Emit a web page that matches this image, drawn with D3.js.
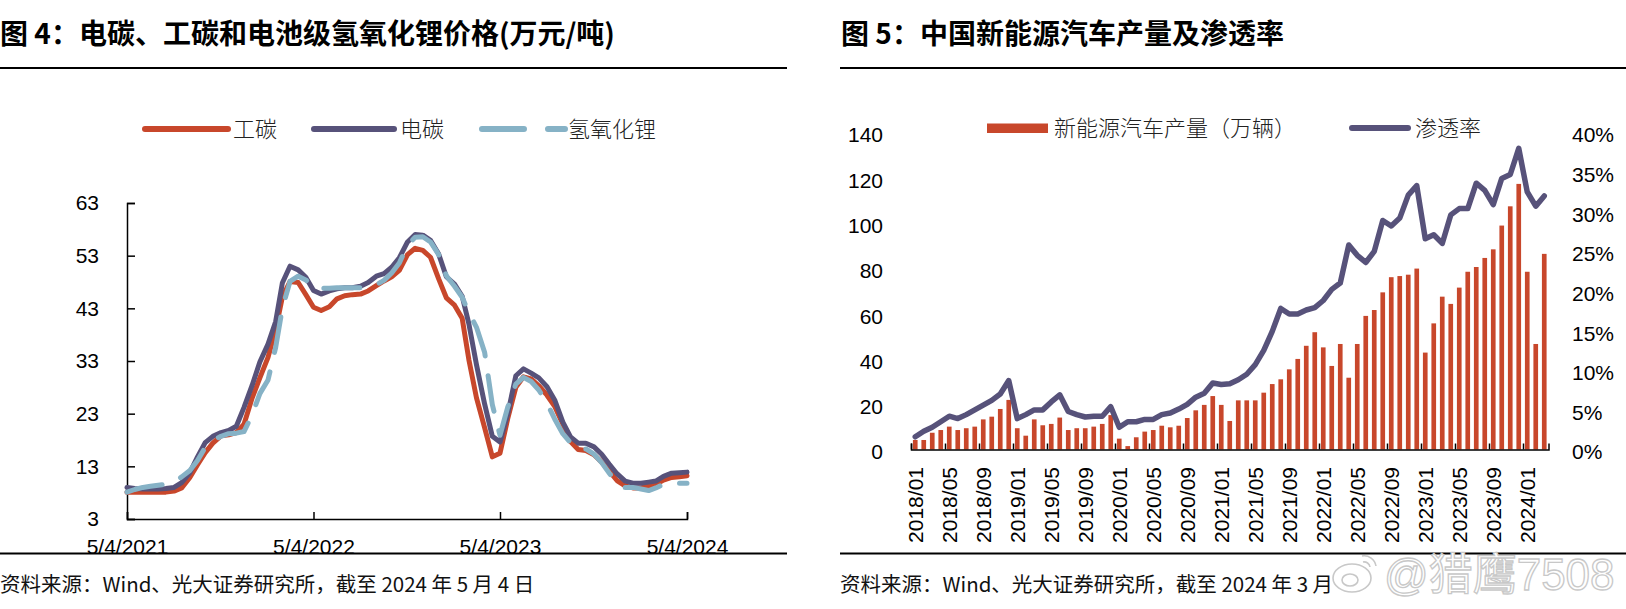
<!DOCTYPE html>
<html><head><meta charset="utf-8">
<script src="https://cdn.jsdelivr.net/npm/d3@7"></script>
<style>
html,body{margin:0;padding:0;background:#fff;}
svg{display:block;}
</style></head>
<body>
<svg id="c" width="1626" height="609"></svg>
<script>
// ---------- Left chart data (万元/吨) ----------
const lDates = ["2021-05-04","2021-05-19","2021-06-04","2021-06-19","2021-07-04","2021-07-19","2021-08-04","2021-08-19","2021-09-04","2021-09-19","2021-10-04","2021-10-19","2021-11-04","2021-11-19","2021-12-04","2021-12-19",
"2022-01-04","2022-01-19","2022-02-04","2022-02-19","2022-03-04","2022-03-19","2022-04-04","2022-04-19","2022-05-04","2022-05-19","2022-06-04","2022-06-19","2022-07-04","2022-07-19","2022-08-04","2022-08-19","2022-09-04","2022-09-19","2022-10-04","2022-10-19","2022-11-04","2022-11-19","2022-12-04","2022-12-19",
"2023-01-04","2023-01-19","2023-02-04","2023-02-19","2023-03-04","2023-03-19","2023-04-04","2023-04-19","2023-05-04","2023-05-19","2023-06-04","2023-06-19","2023-07-04","2023-07-19","2023-08-04","2023-08-19","2023-09-04","2023-09-19","2023-10-04","2023-10-19","2023-11-04","2023-11-19","2023-12-04","2023-12-19",
"2024-01-04","2024-01-19","2024-02-04","2024-02-19","2024-03-04","2024-03-19","2024-04-04","2024-04-19","2024-05-04"];
const gongtan = [8.1,8.1,8.1,8.1,8.1,8.1,8.3,8.9,10.9,13.3,15.6,17.4,18.8,19.0,19.4,21.0,
26.0,29.8,33.7,39.0,45.1,48.1,47.9,45.6,43.2,42.6,43.3,44.8,45.4,45.6,45.7,46.3,47.3,48.2,49.0,50.2,53.2,54.4,54.0,52.7,
48.6,45.0,43.6,41.1,33.3,26.0,20.3,14.8,15.5,22.0,28.0,30.0,29.6,28.3,26.5,24.4,21.0,17.7,16.2,16.0,15.2,13.8,12.1,10.3,
9.3,8.9,8.9,9.3,9.6,10.4,10.9,11.0,11.2];
const diantan = [9.0,8.8,8.7,8.7,8.7,8.8,9.0,9.9,11.8,14.8,17.5,18.7,19.4,19.8,20.6,24.2,
28.4,32.8,36.2,40.5,47.8,51.0,50.3,48.9,46.4,45.7,46.3,46.7,46.9,46.9,47.2,47.9,49.1,49.6,50.8,52.6,55.6,57.0,56.9,55.9,
53.3,49.0,47.6,45.3,40.1,32.3,24.8,18.7,17.6,22.9,30.2,31.5,30.7,29.8,28.1,25.6,21.4,18.6,17.4,17.4,16.7,15.3,13.4,11.6,
10.2,9.8,9.8,10.0,10.2,11.1,11.7,11.8,11.9];
const qingyanghua = [8.1,8.6,9.0,9.2,9.4,9.6,10.1,11.0,12.2,14.1,16.6,17.9,18.7,19.2,19.3,19.6,
22.8,26.8,29.4,35.6,43.0,48.1,49.1,48.4,47.0,46.8,46.8,46.9,46.9,46.9,46.9,47.2,47.5,48.3,49.7,51.6,55.0,56.5,56.6,55.6,
53.2,49.2,47.2,45.1,42.2,39.4,34.6,24.7,18.9,24.2,28.6,29.9,29.1,27.5,25.0,22.0,19.2,17.5,16.3,16.3,15.3,13.7,11.7,9.8,
9.0,9.0,8.7,8.4,8.9,9.6,9.8,9.8,9.8];
const lYTicks = [3,13,23,33,43,53,63];
const lXTicks = ["2021-05-04","2022-05-04","2023-05-04","2024-05-04"];
const lXTickLabels = ["5/4/2021","5/4/2022","5/4/2023","5/4/2024"];
const lSeriesNames = ["工碳","电碳","氢氧化锂"];

// ---------- Right chart data ----------
const months = ["2018/01","2018/02","2018/03","2018/04","2018/05","2018/06","2018/07","2018/08","2018/09","2018/10","2018/11","2018/12",
"2019/01","2019/02","2019/03","2019/04","2019/05","2019/06","2019/07","2019/08","2019/09","2019/10","2019/11","2019/12",
"2020/01","2020/02","2020/03","2020/04","2020/05","2020/06","2020/07","2020/08","2020/09","2020/10","2020/11","2020/12",
"2021/01","2021/02","2021/03","2021/04","2021/05","2021/06","2021/07","2021/08","2021/09","2021/10","2021/11","2021/12",
"2022/01","2022/02","2022/03","2022/04","2022/05","2022/06","2022/07","2022/08","2022/09","2022/10","2022/11","2022/12",
"2023/01","2023/02","2023/03","2023/04","2023/05","2023/06","2023/07","2023/08","2023/09","2023/10","2023/11","2023/12",
"2024/01","2024/02","2024/03"];
const production = [4.2,4.2,7.4,8.6,10.1,8.6,9.4,10.1,13.3,14.5,17.9,21.9,
9.4,6.1,13.3,10.7,11.3,14.1,8.6,9.4,9.4,10.1,11.3,15.2,
4.8,1.5,5.4,7.9,8.6,10.5,9.8,10.5,13.9,17.3,19.7,23.6,
19.7,12.6,21.7,21.7,21.7,25.1,28.9,31.0,35.4,40.0,45.8,51.8,
45.1,36.9,46.6,31.7,46.6,59.0,61.6,69.4,76.1,76.6,77.2,79.9,
42.8,55.7,67.5,64.3,71.5,78.5,80.6,84.6,88.4,98.9,107.4,117.3,
78.5,46.6,86.4];
const penetration = [1.6,2.3,2.8,3.5,4.2,3.9,4.4,5.0,5.6,6.2,7.0,8.7,
3.9,4.4,5.0,5.0,6.0,6.9,4.8,4.4,4.1,4.2,4.2,5.4,
2.8,3.5,3.5,3.8,3.8,4.4,4.6,5.1,5.7,6.6,7.1,8.4,
8.2,8.3,8.8,9.5,10.7,12.5,14.9,17.8,17.1,17.1,17.6,17.9,
18.8,20.2,21.0,25.8,24.5,23.6,25.0,28.9,28.2,29.2,32.1,33.3,
26.6,27.1,26.0,29.6,30.4,30.4,33.6,32.7,30.9,34.2,34.7,38.0,
32.5,30.7,32.0];
const rYTicks = [0,20,40,60,80,100,120,140];
const rPTicks = [0,5,10,15,20,25,30,35,40];
const rXLabels = ["2018/01","2018/05","2018/09","2019/01","2019/05","2019/09","2020/01","2020/05","2020/09","2021/01","2021/05","2021/09","2022/01","2022/05","2022/09","2023/01","2023/05","2023/09","2024/01"];

const RED = "#c8472b", PURPLE = "#57527a", BLUE = "#86b2c6";
const LAT = "'Liberation Sans', Arial, 'Noto Sans CJK SC', sans-serif";
const CJK = "'Noto Sans CJK SC', 'Liberation Sans', sans-serif";

const svg = d3.select("#c");

// ---------- Titles and rules ----------
svg.append("text").attr("x", 0).attr("y", 44).attr("font-family", CJK).attr("font-weight", 700)
  .attr("font-size", 28).attr("fill", "#000").text("图 4：电碳、工碳和电池级氢氧化锂价格(万元/吨)");
svg.append("text").attr("x", 841).attr("y", 44).attr("font-family", CJK).attr("font-weight", 700)
  .attr("font-size", 28).attr("fill", "#000").text("图 5：中国新能源汽车产量及渗透率");
[[0, 787], [840, 1626]].forEach(([a, b]) => {
  svg.append("line").attr("x1", a).attr("x2", b).attr("y1", 68).attr("y2", 68).attr("stroke", "#000").attr("stroke-width", 2);
});

// ---------- Left chart ----------
const parse = d3.timeParse("%Y-%m-%d");
const xL = d3.scaleTime().domain([parse("2021-05-04"), parse("2024-05-04")]).range([127, 687]);
const yL = d3.scaleLinear().domain([3, 63]).range([519, 203]);
const gL = svg.append("g");

const yAxisL = d3.axisLeft(yL).tickValues(lYTicks).tickSize(-8).tickPadding(28).tickFormat(d3.format("d"));
const gyL = gL.append("g").attr("transform", "translate(127,0)").call(yAxisL);
gyL.select(".domain").attr("stroke", "#000").attr("stroke-width", 1.5);
gyL.selectAll(".tick line").attr("stroke", "#000").attr("stroke-width", 1.5);
gyL.selectAll(".tick text").attr("font-family", LAT).attr("font-size", 21).attr("fill", "#000");

const xAxisL = d3.axisBottom(xL).tickValues(lXTicks.map(parse)).tickSize(-7)
  .tickFormat((d, i) => lXTickLabels[i]).tickPadding(35);
const gxL = gL.append("g").attr("transform", "translate(0,519)").call(xAxisL);
gxL.select(".domain").attr("stroke", "#000").attr("stroke-width", 1.5);
gxL.selectAll(".tick line").attr("stroke", "#000").attr("stroke-width", 1.5);
gxL.selectAll(".tick text").attr("font-family", LAT).attr("font-size", 21).attr("fill", "#000").attr("dy", 0);

const lineL = (vals) => d3.line().x((d, i) => xL(parse(lDates[i]))).y(d => yL(d)).curve(d3.curveLinear)(vals);
gL.append("path").attr("d", lineL(gongtan)).attr("fill", "none").attr("stroke", RED).attr("stroke-width", 5).attr("stroke-linejoin", "round").attr("stroke-linecap", "round");
gL.append("path").attr("d", lineL(diantan)).attr("fill", "none").attr("stroke", PURPLE).attr("stroke-width", 5).attr("stroke-linejoin", "round").attr("stroke-linecap", "round");
gL.append("path").attr("d", lineL(qingyanghua)).attr("fill", "none").attr("stroke", BLUE).attr("stroke-width", 5).attr("stroke-linejoin", "round").attr("stroke-linecap", "round").attr("stroke-dasharray", "36,20");

// legend
const legL = [
  {x1: 145, x2: 228, tx: 233, c: RED, dash: null},
  {x1: 314, x2: 394, tx: 400, c: PURPLE, dash: null},
  {x1: 482, x2: 565, tx: 568, c: BLUE, dash: "42,24"}
];
legL.forEach((d, i) => {
  const l = svg.append("line").attr("x1", d.x1).attr("x2", d.x2).attr("y1", 129).attr("y2", 129)
    .attr("stroke", d.c).attr("stroke-width", 6).attr("stroke-linecap", "round");
  if (d.dash) l.attr("stroke-dasharray", d.dash);
  svg.append("text").attr("x", d.tx).attr("y", 129).attr("dy", "0.36em").attr("font-family", CJK).attr("font-weight", 300)
    .attr("font-size", 22).attr("fill", "#222").text(lSeriesNames[i]);
});

// ---------- Right chart ----------
const xR = d3.scaleBand().domain(months).range([911, 1548.5]).paddingInner(0.45).paddingOuter(0.225);
const yR = d3.scaleLinear().domain([0, 140]).range([449.5, 132.5]);
const yP = d3.scaleLinear().domain([0, 40]).range([449.5, 132.5]);
const gR = svg.append("g");

gR.selectAll("rect.bar").data(production).join("rect").attr("class", "bar")
  .attr("x", (d, i) => xR(months[i])).attr("width", xR.bandwidth())
  .attr("y", d => yR(d)).attr("height", d => yR(0) - yR(d)).attr("fill", RED);

const xAxisR = d3.axisBottom(d3.scaleLinear().domain([0, months.length]).range([911, 1548.5]))
  .tickValues(d3.range(0, months.length + 1, 4)).tickSize(-6).tickFormat("");
const gxR = gR.append("g").attr("transform", "translate(0,449.5)").call(xAxisR);
gxR.select(".domain").attr("stroke", "#000").attr("stroke-width", 1.5);
gxR.selectAll(".tick line").attr("stroke", "#000").attr("stroke-width", 1.5);

gR.selectAll("text.xl").data(rXLabels).join("text").attr("class", "xl")
  .attr("transform", d => `translate(${xR(d) + xR.bandwidth() / 2},467) rotate(-90)`)
  .attr("text-anchor", "end").attr("dy", "0.36em")
  .attr("font-family", LAT).attr("font-size", 21).attr("fill", "#000").text(d => d);

const gyR = gR.append("g").attr("transform", "translate(911,0)")
  .call(d3.axisLeft(yR).tickValues(rYTicks).tickSize(0).tickPadding(28));
gyR.select(".domain").remove();
gyR.selectAll(".tick text").attr("font-family", LAT).attr("font-size", 21).attr("fill", "#000").attr("dy", "0.45em");
const gpR = gR.append("g").attr("transform", "translate(1548,0)")
  .call(d3.axisRight(yP).tickValues(rPTicks).tickSize(0).tickPadding(24).tickFormat(d => d + "%"));
gpR.select(".domain").remove();
gpR.selectAll(".tick text").attr("font-family", LAT).attr("font-size", 21).attr("fill", "#000").attr("dy", "0.45em");

gR.append("path").attr("d", d3.line().x((d, i) => xR(months[i]) + xR.bandwidth() / 2).y(d => yP(d))(penetration))
  .attr("fill", "none").attr("stroke", PURPLE).attr("stroke-width", 5.5).attr("stroke-linejoin", "round").attr("stroke-linecap", "round");

// legend
svg.append("rect").attr("x", 987).attr("y", 123.5).attr("width", 61).attr("height", 9.5).attr("fill", RED);
svg.append("text").attr("x", 1054).attr("y", 128).attr("dy", "0.36em").attr("font-family", CJK).attr("font-weight", 300)
  .attr("font-size", 22).attr("fill", "#222").text("新能源汽车产量（万辆）");
svg.append("line").attr("x1", 1352).attr("x2", 1408).attr("y1", 128).attr("y2", 128).attr("stroke", PURPLE)
  .attr("stroke-width", 6).attr("stroke-linecap", "round");
svg.append("text").attr("x", 1415).attr("y", 128).attr("dy", "0.36em").attr("font-family", CJK).attr("font-weight", 300)
  .attr("font-size", 22).attr("fill", "#222").text("渗透率");

// ---------- Bottom rules and sources ----------
[[0, 787], [840, 1626]].forEach(([a, b]) => {
  svg.append("line").attr("x1", a).attr("x2", b).attr("y1", 553.5).attr("y2", 553.5).attr("stroke", "#000").attr("stroke-width", 2);
});
svg.append("text").attr("x", 0).attr("y", 585).attr("dy", "0.36em").attr("font-family", CJK).attr("font-size", 20.5)
  .attr("fill", "#111").text("资料来源：Wind、光大证券研究所，截至 2024 年 5 月 4 日");
svg.append("text").attr("x", 840).attr("y", 585).attr("dy", "0.36em").attr("font-family", CJK).attr("font-size", 20.5)
  .attr("fill", "#111").text("资料来源：Wind、光大证券研究所，截至 2024 年 3 月");

// watermark
const wm = svg.append("g").attr("fill", "none").attr("stroke", "#c8c8c8").attr("stroke-width", 1.6);
wm.append("ellipse").attr("cx", 1352).attr("cy", 578).attr("rx", 19).attr("ry", 14);
wm.append("ellipse").attr("cx", 1350).attr("cy", 580).attr("rx", 8).attr("ry", 6);
wm.append("path").attr("d", "M1362,556 a12,12 0 0 1 14,10 M1363,562 a6,6 0 0 1 7,5");
svg.append("text").attr("x", 1384).attr("y", 590).attr("font-family", LAT).attr("font-size", 44)
  .attr("fill", "#fff").attr("stroke", "#c8c8c8").attr("stroke-width", 1.3).text("@猎鹰7508");
</script>
</body></html>
